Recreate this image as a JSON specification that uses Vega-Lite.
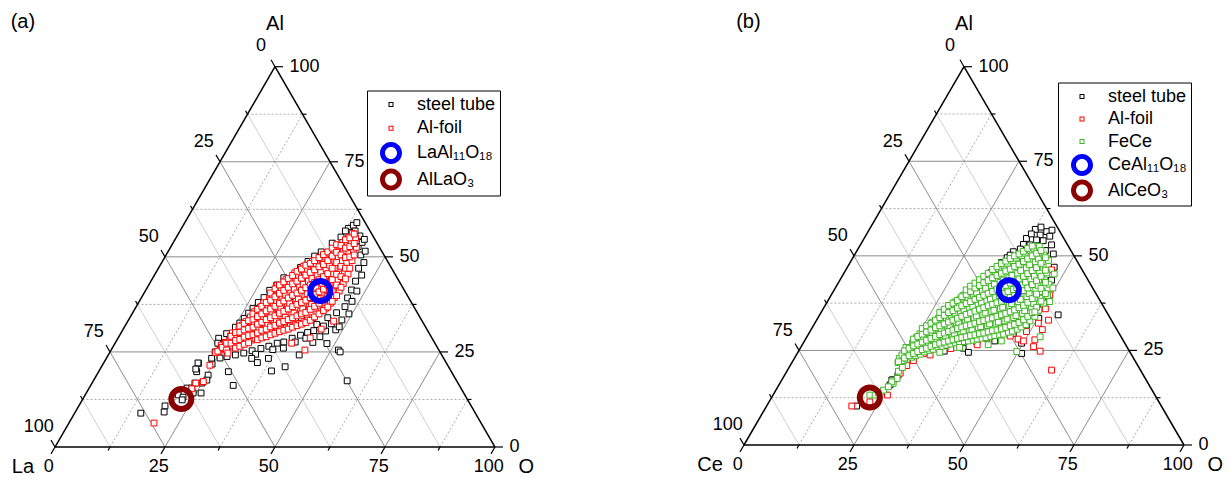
{
"$schema":"https://vega.github.io/schema/vega-lite/v6.json",
"padding":0,
"spacing":0,
"config":{"font":"Liberation Sans","view":{"stroke":null}},
"resolve":{"scale":{"fill":"independent","shape":"independent"},"legend":{"fill":"independent","shape":"independent"}},
"datasets":{
"grid":[
{"x":6.25,"y":12.5,"x2":93.75,"y2":12.5,"k":"o"},
{"x":12.5,"y":25,"x2":87.5,"y2":25,"k":"d"},
{"x":18.75,"y":37.5,"x2":81.25,"y2":37.5,"k":"o"},
{"x":25,"y":50,"x2":75,"y2":50,"k":"d"},
{"x":31.25,"y":62.5,"x2":68.75,"y2":62.5,"k":"o"},
{"x":37.5,"y":75,"x2":62.5,"y2":75,"k":"d"},
{"x":43.75,"y":87.5,"x2":56.25,"y2":87.5,"k":"o"},
{"x":12.5,"y":0,"x2":56.25,"y2":87.5,"k":"o"},
{"x":25,"y":0,"x2":62.5,"y2":75,"k":"d"},
{"x":37.5,"y":0,"x2":68.75,"y2":62.5,"k":"o"},
{"x":50,"y":0,"x2":75,"y2":50,"k":"d"},
{"x":62.5,"y":0,"x2":81.25,"y2":37.5,"k":"o"},
{"x":75,"y":0,"x2":87.5,"y2":25,"k":"d"},
{"x":87.5,"y":0,"x2":93.75,"y2":12.5,"k":"o"},
{"x":12.5,"y":0,"x2":6.25,"y2":12.5,"k":"l"},
{"x":25,"y":0,"x2":12.5,"y2":25,"k":"d"},
{"x":37.5,"y":0,"x2":18.75,"y2":37.5,"k":"l"},
{"x":50,"y":0,"x2":25,"y2":50,"k":"d"},
{"x":62.5,"y":0,"x2":31.25,"y2":62.5,"k":"l"},
{"x":75,"y":0,"x2":37.5,"y2":75,"k":"d"},
{"x":87.5,"y":0,"x2":43.75,"y2":87.5,"k":"l"},
{"x":0,"y":0,"x2":100,"y2":0,"k":"f"},
{"x":100,"y":0,"x2":50,"y2":100,"k":"f"},
{"x":50,"y":100,"x2":0,"y2":0,"k":"f"},
{"x":100,"y":0,"x2":101.82,"y2":0,"k":"t"},
{"x":93.75,"y":12.5,"x2":94.66,"y2":12.5,"k":"t"},
{"x":87.5,"y":25,"x2":89.32,"y2":25,"k":"t"},
{"x":81.25,"y":37.5,"x2":82.16,"y2":37.5,"k":"t"},
{"x":75,"y":50,"x2":76.82,"y2":50,"k":"t"},
{"x":68.75,"y":62.5,"x2":69.66,"y2":62.5,"k":"t"},
{"x":62.5,"y":75,"x2":64.32,"y2":75,"k":"t"},
{"x":56.25,"y":87.5,"x2":57.16,"y2":87.5,"k":"t"},
{"x":50,"y":100,"x2":51.82,"y2":100,"k":"t"},
{"x":50,"y":100,"x2":49.09,"y2":101.82,"k":"t"},
{"x":43.75,"y":87.5,"x2":43.3,"y2":88.41,"k":"t"},
{"x":37.5,"y":75,"x2":36.59,"y2":76.82,"k":"t"},
{"x":31.25,"y":62.5,"x2":30.8,"y2":63.41,"k":"t"},
{"x":25,"y":50,"x2":24.09,"y2":51.82,"k":"t"},
{"x":18.75,"y":37.5,"x2":18.3,"y2":38.41,"k":"t"},
{"x":12.5,"y":25,"x2":11.59,"y2":26.82,"k":"t"},
{"x":6.25,"y":12.5,"x2":5.8,"y2":13.41,"k":"t"},
{"x":0,"y":0,"x2":-0.91,"y2":1.82,"k":"t"},
{"x":0,"y":0,"x2":-0.91,"y2":-1.82,"k":"t"},
{"x":12.5,"y":0,"x2":12.05,"y2":-0.91,"k":"t"},
{"x":25,"y":0,"x2":24.09,"y2":-1.82,"k":"t"},
{"x":37.5,"y":0,"x2":37.05,"y2":-0.91,"k":"t"},
{"x":50,"y":0,"x2":49.09,"y2":-1.82,"k":"t"},
{"x":62.5,"y":0,"x2":62.05,"y2":-0.91,"k":"t"},
{"x":75,"y":0,"x2":74.09,"y2":-1.82,"k":"t"},
{"x":87.5,"y":0,"x2":87.05,"y2":-0.91,"k":"t"},
{"x":100,"y":0,"x2":99.09,"y2":-1.82,"k":"t"}
],
"lab":[
{"x":103.3,"y":0,"t":"0","g":"r"},{"x":90.8,"y":25,"t":"25","g":"r"},{"x":78.3,"y":50,"t":"50","g":"r"},{"x":65.8,"y":75,"t":"75","g":"r"},{"x":53.3,"y":100,"t":"100","g":"r"},
{"x":46.8,"y":105.5,"t":"0","g":"c"},{"x":33.8,"y":80.2,"t":"25","g":"c"},{"x":21.3,"y":55.2,"t":"50","g":"c"},{"x":8.8,"y":30.2,"t":"75","g":"c"},{"x":-3.7,"y":5.2,"t":"100","g":"c"},
{"x":-1.4,"y":-5.2,"t":"0","g":"c"},{"x":23.6,"y":-5.2,"t":"25","g":"c"},{"x":48.6,"y":-5.2,"t":"50","g":"c"},{"x":73.6,"y":-5.2,"t":"75","g":"c"},{"x":98.6,"y":-5.2,"t":"100","g":"c"}
],
"va":[{"x":50,"y":111.2,"t":"Al"},{"x":-7.3,"y":-5.3,"t":"La"},{"x":107.1,"y":-5.3,"t":"O"},{"x":-7.3,"y":111.8,"t":"(a)"}],
"vb":[{"x":50,"y":111.2,"t":"Al"},{"x":-7.7,"y":-5.3,"t":"Ce"},{"x":107.1,"y":-5.3,"t":"O"},{"x":1.0,"y":111.8,"t":"(b)"}],
"a_ref":[{"x":60.3,"y":41.0,"s":"LaAl₁₁O₁₈"},{"x":28.7,"y":12.6,"s":"AlLaO₃"}],
"b_ref":[{"x":60.2,"y":40.9,"s":"CeAl₁₁O₁₈"},{"x":28.6,"y":12.55,"s":"AlCeO₃"}],
"a_st":[
{"x":66.7,"y":57.5},{"x":67.8,"y":58.3},{"x":68.9,"y":52.7},{"x":69.3,"y":55.5},{"x":68.2,"y":56.8},{"x":67.0,"y":56.4},{"x":69.8,"y":53.8},{"x":66.0,"y":56.8},{"x":68.6,"y":59.0},{"x":70.3,"y":54.6},
{"x":69.7,"y":45.2},{"x":70.2,"y":48.5},{"x":69.5,"y":50.5},{"x":70.5,"y":51.5},{"x":67.4,"y":41.3},{"x":68.3,"y":43.6},{"x":69.0,"y":47.0},{"x":65.9,"y":36.9},{"x":66.5,"y":39.2},{"x":67.5,"y":38.3},{"x":65.2,"y":33.4},{"x":64.0,"y":35.3},{"x":62.8,"y":32.4},{"x":63.8,"y":30.8},{"x":60.2,"y":29.0},{"x":61.5,"y":30.5},{"x":58.8,"y":30.6},{"x":57.4,"y":30.1},{"x":55.8,"y":29.4},{"x":53.9,"y":28.6},{"x":52.0,"y":27.6},{"x":50.5,"y":27.3},{"x":48.6,"y":26.5},{"x":46.8,"y":25.9},{"x":44.8,"y":25.3},{"x":42.9,"y":24.7},{"x":41.0,"y":24.2},{"x":39.1,"y":23.8},{"x":59.5,"y":32.2},{"x":62.0,"y":34.0},{"x":68.6,"y":41.0},{"x":66.8,"y":35.0},{"x":64.6,"y":31.6},{"x":61.0,"y":31.8},{"x":57.0,"y":28.6},{"x":54.6,"y":27.6},{"x":49.5,"y":25.6},{"x":45.6,"y":24.4},
{"x":64.4,"y":25.5},{"x":51.9,"y":26.0},{"x":44.7,"y":23.3},{"x":48.5,"y":23.3},{"x":52.3,"y":21.1},{"x":49.2,"y":20.0},{"x":39.4,"y":19.8},{"x":32.6,"y":22.0},{"x":32.2,"y":19.8},{"x":35.6,"y":23.3},{"x":37.5,"y":27.3},{"x":66.4,"y":17.4},{"x":64.8,"y":25.0},{"x":55.5,"y":24.2},{"x":58.6,"y":27.5},{"x":61.8,"y":27.2},{"x":40.5,"y":16.2},{"x":35.7,"y":21.8},{"x":46.0,"y":22.2},
{"x":50.4,"y":42.6},{"x":54.2,"y":45.2},{"x":47.5,"y":39.3},{"x":45.0,"y":36.4},{"x":43.0,"y":33.8},{"x":41.0,"y":31.5},{"x":39.0,"y":29.8},{"x":37.2,"y":28.6},{"x":57.5,"y":48.8},{"x":60.5,"y":51.3},{"x":63.0,"y":53.6},{"x":65.0,"y":55.2},{"x":52.0,"y":44.5},{"x":55.8,"y":47.2},{"x":59.0,"y":50.2},{"x":48.8,"y":41.2},{"x":46.2,"y":38.0},{"x":44.0,"y":35.2},{"x":42.0,"y":32.6},
{"x":56.0,"y":34.0},{"x":59.5,"y":40.5},{"x":62.0,"y":45.0},{"x":48.0,"y":33.0},{"x":54.0,"y":38.0},
{"x":37.0,"y":27.3},{"x":36.4,"y":25.0},{"x":37.5,"y":23.4},{"x":32.5,"y":22.1},{"x":32.0,"y":20.5},{"x":34.8,"y":18.9},{"x":34.5,"y":17.6},{"x":33.4,"y":16.8},{"x":31.8,"y":16.8},{"x":30.0,"y":15.5},{"x":33.2,"y":14.2},{"x":31.4,"y":14.2},{"x":31.1,"y":15.5},{"x":28.0,"y":13.7},{"x":29.1,"y":13.1},{"x":28.9,"y":12.4},{"x":25.0,"y":10.8},{"x":24.8,"y":9.2},{"x":19.5,"y":8.9}
],
"a_al":[
{"x":36.5,"y":24.8},{"x":37.5,"y":25.5},{"x":37.8,"y":26.8},{"x":38.4,"y":25.9},{"x":38.7,"y":27.5},
{"x":39.3,"y":26.2},{"x":39.6,"y":28.0},{"x":39.9,"y":29.2},{"x":40.4,"y":26.6},{"x":40.7,"y":28.4},{"x":40.3,"y":30.0},
{"x":41.6,"y":27.1},{"x":41.3,"y":29.0},{"x":41.8,"y":31.0},{"x":42.4,"y":27.0},{"x":42.7,"y":28.6},{"x":42.2,"y":30.4},{"x":42.6,"y":32.1},
{"x":43.5,"y":27.8},{"x":43.2,"y":29.5},{"x":43.8,"y":31.3},{"x":43.4,"y":33.0},{"x":44.6,"y":28.1},{"x":44.3,"y":30.2},{"x":44.8,"y":32.0},{"x":44.4,"y":34.2},
{"x":45.5,"y":28.5},{"x":45.8,"y":30.4},{"x":45.3,"y":32.6},{"x":45.7,"y":34.5},{"x":45.4,"y":35.6},
{"x":46.6,"y":29.0},{"x":46.3,"y":31.1},{"x":46.8,"y":33.3},{"x":46.4,"y":35.4},{"x":46.7,"y":36.8},
{"x":47.5,"y":29.3},{"x":47.8,"y":31.5},{"x":47.3,"y":33.8},{"x":47.6,"y":36.0},{"x":47.4,"y":37.9},
{"x":48.6,"y":29.8},{"x":48.3,"y":32.2},{"x":48.8,"y":34.5},{"x":48.4,"y":36.8},{"x":48.7,"y":39.0},
{"x":49.5,"y":30.1},{"x":49.8,"y":32.5},{"x":49.3,"y":35.1},{"x":49.6,"y":37.6},{"x":49.4,"y":39.8},
{"x":50.6,"y":30.4},{"x":50.3,"y":33.0},{"x":50.8,"y":35.8},{"x":50.4,"y":38.5},{"x":50.7,"y":41.0},{"x":50.5,"y":42.5},
{"x":51.5,"y":31.0},{"x":51.8,"y":33.6},{"x":51.3,"y":36.4},{"x":51.6,"y":39.2},{"x":51.4,"y":41.8},
{"x":52.6,"y":31.3},{"x":52.3,"y":34.1},{"x":52.8,"y":37.0},{"x":52.4,"y":40.0},{"x":52.7,"y":42.8},{"x":52.5,"y":44.0},
{"x":53.5,"y":31.8},{"x":53.8,"y":34.8},{"x":53.3,"y":37.7},{"x":53.6,"y":40.8},{"x":53.4,"y":43.5},
{"x":54.6,"y":32.2},{"x":54.3,"y":35.2},{"x":54.8,"y":38.4},{"x":54.4,"y":41.5},{"x":54.7,"y":44.3},{"x":54.5,"y":45.8},
{"x":55.5,"y":32.5},{"x":55.8,"y":35.6},{"x":55.3,"y":38.9},{"x":55.6,"y":42.2},{"x":55.4,"y":45.0},
{"x":56.6,"y":33.0},{"x":56.3,"y":36.3},{"x":56.8,"y":39.6},{"x":56.4,"y":42.8},{"x":56.7,"y":45.9},{"x":56.5,"y":47.5},
{"x":57.5,"y":33.4},{"x":57.8,"y":36.9},{"x":57.3,"y":40.3},{"x":57.6,"y":43.6},{"x":57.4,"y":46.6},
{"x":58.6,"y":34.0},{"x":58.3,"y":37.5},{"x":58.8,"y":41.0},{"x":58.4,"y":44.3},{"x":58.7,"y":47.4},{"x":58.5,"y":48.8},
{"x":59.5,"y":35.0},{"x":59.8,"y":38.4},{"x":59.3,"y":42.0},{"x":59.6,"y":45.2},{"x":59.4,"y":48.2},
{"x":60.6,"y":35.8},{"x":60.3,"y":39.0},{"x":60.8,"y":43.0},{"x":60.4,"y":46.0},{"x":60.7,"y":49.2},
{"x":61.5,"y":36.5},{"x":61.8,"y":40.0},{"x":61.3,"y":43.6},{"x":61.6,"y":46.9},{"x":61.4,"y":50.0},
{"x":62.6,"y":37.8},{"x":62.3,"y":41.2},{"x":62.8,"y":44.5},{"x":62.4,"y":47.8},{"x":62.7,"y":50.8},
{"x":63.5,"y":39.3},{"x":63.8,"y":42.5},{"x":63.3,"y":45.6},{"x":63.6,"y":48.9},{"x":63.4,"y":51.8},
{"x":64.6,"y":41.0},{"x":64.3,"y":44.0},{"x":64.8,"y":47.0},{"x":64.4,"y":50.0},{"x":64.7,"y":52.6},
{"x":65.5,"y":43.0},{"x":65.8,"y":46.0},{"x":65.3,"y":49.0},{"x":65.6,"y":51.6},{"x":65.4,"y":53.8},
{"x":66.6,"y":45.5},{"x":66.3,"y":48.5},{"x":66.8,"y":51.0},{"x":66.4,"y":53.5},{"x":66.7,"y":55.2},
{"x":67.5,"y":49.0},{"x":67.8,"y":51.5},{"x":67.3,"y":54.0},{"x":67.6,"y":56.2},{"x":68.5,"y":52.5},{"x":68.3,"y":55.0},
{"x":37.0,"y":25.2},{"x":38.0,"y":26.2},{"x":39.0,"y":25.5},{"x":39.0,"y":27.3},{"x":40.0,"y":27.3},{"x":40.0,"y":29.1},
{"x":41.0,"y":26.0},{"x":41.0,"y":28.0},{"x":41.0,"y":30.1},{"x":42.0,"y":26.5},{"x":42.0,"y":28.3},{"x":42.0,"y":30.2},{"x":42.0,"y":31.8},
{"x":43.0,"y":27.0},{"x":43.0,"y":28.9},{"x":43.0,"y":30.8},{"x":43.0,"y":32.5},{"x":44.0,"y":27.4},{"x":44.0,"y":29.3},{"x":44.0,"y":31.2},{"x":44.0,"y":33.2},
{"x":45.0,"y":29.5},{"x":45.0,"y":31.5},{"x":45.0,"y":33.6},{"x":45.0,"y":35.0},{"x":46.0,"y":28.2},{"x":46.0,"y":30.0},{"x":46.0,"y":32.3},{"x":46.0,"y":34.3},{"x":46.0,"y":36.2},
{"x":47.0,"y":28.7},{"x":47.0,"y":30.7},{"x":47.0,"y":32.8},{"x":47.0,"y":35.0},{"x":47.0,"y":37.0},
{"x":48.0,"y":29.0},{"x":48.0,"y":31.0},{"x":48.0,"y":33.5},{"x":48.0,"y":35.8},{"x":48.0,"y":38.0},
{"x":49.0,"y":29.5},{"x":49.0,"y":31.6},{"x":49.0,"y":34.0},{"x":49.0,"y":36.3},{"x":49.0,"y":38.6},{"x":49.0,"y":40.5},
{"x":50.0,"y":29.9},{"x":50.0,"y":32.0},{"x":50.0,"y":34.5},{"x":50.0,"y":37.0},{"x":50.0,"y":39.5},{"x":50.0,"y":41.6},
{"x":51.0,"y":30.3},{"x":51.0,"y":32.6},{"x":51.0,"y":35.2},{"x":51.0,"y":37.8},{"x":51.0,"y":40.4},{"x":51.0,"y":42.6},
{"x":52.0,"y":30.7},{"x":52.0,"y":33.0},{"x":52.0,"y":35.7},{"x":52.0,"y":38.4},{"x":52.0,"y":41.2},{"x":52.0,"y":43.4},
{"x":53.0,"y":31.0},{"x":53.0,"y":33.5},{"x":53.0,"y":36.3},{"x":53.0,"y":39.2},{"x":53.0,"y":42.0},{"x":53.0,"y":44.3},
{"x":54.0,"y":31.5},{"x":54.0,"y":34.0},{"x":54.0,"y":36.9},{"x":54.0,"y":39.9},{"x":54.0,"y":42.9},{"x":54.0,"y":45.1},
{"x":55.0,"y":31.9},{"x":55.0,"y":34.5},{"x":55.0,"y":37.5},{"x":55.0,"y":40.5},{"x":55.0,"y":43.6},{"x":55.0,"y":46.2},
{"x":56.0,"y":32.3},{"x":56.0,"y":35.0},{"x":56.0,"y":38.0},{"x":56.0,"y":41.2},{"x":56.0,"y":44.4},{"x":56.0,"y":46.8},
{"x":57.0,"y":32.7},{"x":57.0,"y":35.4},{"x":57.0,"y":38.6},{"x":57.0,"y":41.9},{"x":57.0,"y":45.2},{"x":57.0,"y":47.8},
{"x":58.0,"y":33.3},{"x":58.0,"y":36.2},{"x":58.0,"y":39.3},{"x":58.0,"y":42.6},{"x":58.0,"y":45.9},{"x":58.0,"y":48.3},
{"x":59.0,"y":34.2},{"x":59.0,"y":37.0},{"x":59.0,"y":40.1},{"x":59.0,"y":43.3},{"x":59.0,"y":46.6},{"x":59.0,"y":49.0},
{"x":60.0,"y":35.0},{"x":60.0,"y":37.8},{"x":60.0,"y":40.8},{"x":60.0,"y":44.0},{"x":60.0,"y":47.4},{"x":60.0,"y":49.8},
{"x":61.0,"y":35.9},{"x":61.0,"y":38.6},{"x":61.0,"y":41.5},{"x":61.0,"y":44.8},{"x":61.0,"y":48.0},{"x":61.0,"y":50.6},
{"x":62.0,"y":36.8},{"x":62.0,"y":39.6},{"x":62.0,"y":42.6},{"x":62.0,"y":45.6},{"x":62.0,"y":49.0},{"x":62.0,"y":51.3},
{"x":63.0,"y":38.3},{"x":63.0,"y":41.0},{"x":63.0,"y":44.0},{"x":63.0,"y":47.0},{"x":63.0,"y":50.2},{"x":63.0,"y":52.3},
{"x":64.0,"y":39.8},{"x":64.0,"y":42.6},{"x":64.0,"y":45.4},{"x":64.0,"y":48.5},{"x":64.0,"y":51.2},{"x":64.0,"y":53.2},
{"x":65.0,"y":42.0},{"x":65.0,"y":44.8},{"x":65.0,"y":47.5},{"x":65.0,"y":50.5},{"x":65.0,"y":53.0},
{"x":66.0,"y":44.2},{"x":66.0,"y":47.0},{"x":66.0,"y":49.8},{"x":66.0,"y":52.3},{"x":66.0,"y":54.5},
{"x":67.0,"y":47.0},{"x":67.0,"y":50.0},{"x":67.0,"y":52.7},{"x":67.0,"y":55.0},{"x":68.0,"y":50.5},{"x":68.0,"y":53.5},{"x":68.0,"y":56.0},
{"x":53.8,"y":27.3},{"x":56.8,"y":25.5},{"x":58.0,"y":28.7},{"x":63.3,"y":33.1},{"x":60.5,"y":31.0},{"x":39.3,"y":24.7},{"x":33.6,"y":17.1},{"x":32.0,"y":16.8},{"x":31.1,"y":15.3},{"x":22.5,"y":6.3},{"x":33.7,"y":17.2},{"x":35.2,"y":21.5}
],
"b_st":[
{"x":64.2,"y":54.6},{"x":69.9,"y":52.9},{"x":68.8,"y":56.4},{"x":67.3,"y":55.5},{"x":65.0,"y":52.9},{"x":61.2,"y":51.1},{"x":62.0,"y":49.4},{"x":66.2,"y":57.0},{"x":68.0,"y":54.0},{"x":69.5,"y":55.2},{"x":63.5,"y":53.0},{"x":66.5,"y":54.2},{"x":70.3,"y":50.5},{"x":59.8,"y":49.5},{"x":58.5,"y":48.2},{"x":67.5,"y":57.6},{"x":65.3,"y":55.8},{"x":62.8,"y":51.8},{"x":60.5,"y":50.2},{"x":70.0,"y":56.8},{"x":68.5,"y":51.4},
{"x":57.4,"y":46.3},{"x":53.6,"y":41.8},{"x":46.8,"y":35.2},{"x":50.0,"y":38.8},{"x":55.5,"y":44.5},{"x":43.5,"y":32.5},{"x":56.2,"y":45.6},{"x":52.0,"y":41.0},
{"x":69.9,"y":43.6},{"x":69.2,"y":39.2},{"x":68.0,"y":37.0},{"x":71.4,"y":34.4},{"x":64.2,"y":31.7},{"x":63.1,"y":26.9},{"x":63.1,"y":24.2},{"x":61.2,"y":29.5},{"x":70.5,"y":47.0},{"x":67.0,"y":33.5},
{"x":52.9,"y":27.3},{"x":49.8,"y":25.6},{"x":51.0,"y":24.5},{"x":57.0,"y":27.5},{"x":45.5,"y":24.8},
{"x":33.2,"y":15.9},{"x":33.9,"y":17.2},{"x":25.6,"y":10.3},{"x":33.6,"y":17.2},{"x":35.0,"y":18.5}
],
"b_al":[
{"x":69.9,"y":46.3},{"x":69.5,"y":39.7},{"x":69.2,"y":33.0},{"x":66.9,"y":32.2},{"x":66.1,"y":27.8},{"x":67.3,"y":24.8},{"x":65.8,"y":26.0},{"x":69.9,"y":19.8},{"x":64.2,"y":30.0},{"x":55.2,"y":28.2},{"x":55.5,"y":30.4},{"x":42.3,"y":23.8},{"x":40.8,"y":24.2},{"x":48.7,"y":35.7},{"x":58.9,"y":32.6},{"x":35.5,"y":19.0},{"x":24.5,"y":10.3},{"x":28.6,"y":11.4},{"x":32.6,"y":13.2},{"x":60.5,"y":28.8},{"x":62.3,"y":28.0},{"x":53.0,"y":26.5},{"x":47.0,"y":25.5},{"x":38.5,"y":22.3},{"x":67.8,"y":30.5},{"x":68.5,"y":36.0},{"x":57.5,"y":30.0},{"x":44.0,"y":31.8},{"x":37.0,"y":21.0},{"x":63.5,"y":27.5}
],
"b_fe":[
{"x":35.0,"y":21.8},{"x":35.3,"y":22.9},{"x":36.2,"y":22.3},{"x":35.9,"y":23.8},
{"x":37.0,"y":22.7},{"x":37.3,"y":24.3},{"x":36.8,"y":25.8},{"x":38.1,"y":23.2},{"x":37.8,"y":25.0},{"x":38.3,"y":26.9},
{"x":39.0,"y":23.6},{"x":39.3,"y":25.4},{"x":38.8,"y":27.2},{"x":39.2,"y":28.4},{"x":40.1,"y":24.0},{"x":39.8,"y":26.0},{"x":40.3,"y":27.9},{"x":40.0,"y":29.4},
{"x":41.0,"y":24.6},{"x":41.3,"y":26.5},{"x":40.8,"y":28.5},{"x":41.2,"y":30.4},{"x":42.1,"y":25.0},{"x":41.8,"y":27.1},{"x":42.3,"y":29.1},{"x":42.0,"y":31.3},
{"x":43.0,"y":25.3},{"x":43.3,"y":27.4},{"x":42.8,"y":29.6},{"x":43.2,"y":31.6},{"x":42.9,"y":32.5},
{"x":44.1,"y":25.8},{"x":43.8,"y":28.0},{"x":44.3,"y":30.3},{"x":44.0,"y":32.4},{"x":44.2,"y":33.5},
{"x":45.0,"y":26.1},{"x":45.3,"y":28.3},{"x":44.8,"y":30.6},{"x":45.2,"y":32.8},{"x":44.9,"y":34.5},
{"x":46.1,"y":26.4},{"x":45.8,"y":28.8},{"x":46.3,"y":31.2},{"x":46.0,"y":33.6},{"x":46.2,"y":35.6},
{"x":47.0,"y":26.7},{"x":47.3,"y":29.0},{"x":46.8,"y":31.5},{"x":47.2,"y":34.0},{"x":46.9,"y":36.4},
{"x":48.1,"y":27.0},{"x":47.8,"y":29.5},{"x":48.3,"y":32.0},{"x":48.0,"y":34.6},{"x":48.2,"y":37.0},{"x":47.9,"y":37.8},
{"x":49.0,"y":27.1},{"x":49.3,"y":29.8},{"x":48.8,"y":32.4},{"x":49.2,"y":35.0},{"x":48.9,"y":37.6},{"x":49.1,"y":38.6},
{"x":50.1,"y":27.3},{"x":49.8,"y":30.1},{"x":50.3,"y":32.9},{"x":50.0,"y":35.7},{"x":50.2,"y":38.4},{"x":49.9,"y":39.6},
{"x":51.0,"y":27.5},{"x":51.3,"y":30.4},{"x":50.8,"y":33.3},{"x":51.2,"y":36.2},{"x":50.9,"y":39.0},{"x":51.1,"y":40.4},
{"x":52.1,"y":27.7},{"x":51.8,"y":30.6},{"x":52.3,"y":33.6},{"x":52.0,"y":36.6},{"x":52.2,"y":39.6},{"x":51.9,"y":41.4},
{"x":53.0,"y":28.0},{"x":53.3,"y":31.0},{"x":52.8,"y":34.1},{"x":53.2,"y":37.2},{"x":52.9,"y":40.2},{"x":53.1,"y":42.1},
{"x":54.1,"y":28.2},{"x":53.8,"y":31.3},{"x":54.3,"y":34.5},{"x":54.0,"y":37.7},{"x":54.2,"y":40.8},{"x":53.9,"y":43.0},
{"x":55.0,"y":28.4},{"x":55.3,"y":31.6},{"x":54.8,"y":34.9},{"x":55.2,"y":38.2},{"x":54.9,"y":41.4},{"x":55.1,"y":43.9},
{"x":56.1,"y":28.7},{"x":55.8,"y":32.0},{"x":56.3,"y":35.3},{"x":56.0,"y":38.6},{"x":56.2,"y":42.0},{"x":55.9,"y":44.8},
{"x":57.0,"y":28.9},{"x":57.3,"y":32.2},{"x":56.8,"y":35.6},{"x":57.2,"y":39.0},{"x":56.9,"y":42.5},{"x":57.1,"y":45.8},
{"x":58.1,"y":29.1},{"x":57.8,"y":32.5},{"x":58.3,"y":36.0},{"x":58.0,"y":39.5},{"x":58.2,"y":43.0},{"x":57.9,"y":46.6},
{"x":59.0,"y":29.3},{"x":59.3,"y":32.8},{"x":58.8,"y":36.4},{"x":59.2,"y":40.0},{"x":58.9,"y":43.6},{"x":59.1,"y":47.5},
{"x":60.1,"y":29.8},{"x":59.8,"y":33.3},{"x":60.3,"y":36.9},{"x":60.0,"y":40.5},{"x":60.2,"y":44.2},{"x":59.9,"y":48.0},
{"x":61.0,"y":30.1},{"x":61.3,"y":33.7},{"x":60.8,"y":37.4},{"x":61.2,"y":41.1},{"x":60.9,"y":44.8},{"x":61.1,"y":48.8},
{"x":62.1,"y":30.6},{"x":61.8,"y":34.2},{"x":62.3,"y":37.9},{"x":62.0,"y":41.6},{"x":62.2,"y":45.4},{"x":61.9,"y":49.4},
{"x":63.0,"y":31.2},{"x":63.3,"y":34.8},{"x":62.8,"y":38.5},{"x":63.2,"y":42.3},{"x":62.9,"y":46.1},{"x":63.1,"y":50.0},
{"x":64.1,"y":31.8},{"x":63.8,"y":35.5},{"x":64.3,"y":39.2},{"x":64.0,"y":43.0},{"x":64.2,"y":46.8},{"x":63.9,"y":50.7},
{"x":65.0,"y":32.8},{"x":65.3,"y":36.3},{"x":64.8,"y":40.0},{"x":65.2,"y":43.8},{"x":64.9,"y":47.6},{"x":65.1,"y":51.5},
{"x":66.1,"y":34.0},{"x":65.8,"y":37.4},{"x":66.3,"y":41.0},{"x":66.0,"y":44.6},{"x":66.2,"y":48.4},{"x":65.9,"y":52.0},
{"x":67.0,"y":35.6},{"x":67.3,"y":38.8},{"x":66.8,"y":42.2},{"x":67.2,"y":45.6},{"x":66.9,"y":49.2},{"x":67.1,"y":52.5},
{"x":68.1,"y":37.5},{"x":67.8,"y":40.6},{"x":68.3,"y":43.6},{"x":68.0,"y":47.0},{"x":68.2,"y":50.2},
{"x":69.0,"y":39.5},{"x":69.3,"y":42.5},{"x":68.8,"y":45.5},{"x":69.2,"y":48.8},
{"x":36.5,"y":23.0},{"x":36.5,"y":24.9},{"x":37.5,"y":23.6},{"x":37.5,"y":25.6},{"x":38.5,"y":24.2},{"x":38.5,"y":26.2},{"x":38.5,"y":28.0},
{"x":39.5,"y":24.7},{"x":39.5,"y":26.7},{"x":39.5,"y":28.7},{"x":40.5,"y":25.2},{"x":40.5,"y":27.2},{"x":40.5,"y":29.3},{"x":40.5,"y":30.8},
{"x":41.5,"y":25.6},{"x":41.5,"y":27.7},{"x":41.5,"y":29.9},{"x":41.5,"y":31.5},{"x":42.5,"y":26.1},{"x":42.5,"y":28.2},{"x":42.5,"y":30.4},{"x":42.5,"y":32.2},
{"x":43.5,"y":26.5},{"x":43.5,"y":28.7},{"x":43.5,"y":31.0},{"x":43.5,"y":33.0},{"x":44.5,"y":26.9},{"x":44.5,"y":29.2},{"x":44.5,"y":31.5},{"x":44.5,"y":33.7},{"x":44.5,"y":35.0},
{"x":45.5,"y":27.2},{"x":45.5,"y":29.6},{"x":45.5,"y":32.0},{"x":45.5,"y":34.3},{"x":45.5,"y":35.9},
{"x":46.5,"y":27.5},{"x":46.5,"y":30.0},{"x":46.5,"y":32.5},{"x":46.5,"y":35.0},{"x":46.5,"y":36.9},
{"x":47.5,"y":27.8},{"x":47.5,"y":30.4},{"x":47.5,"y":33.0},{"x":47.5,"y":35.5},{"x":47.5,"y":37.5},
{"x":48.5,"y":28.1},{"x":48.5,"y":30.8},{"x":48.5,"y":33.5},{"x":48.5,"y":36.2},{"x":48.5,"y":38.2},
{"x":49.5,"y":28.4},{"x":49.5,"y":31.2},{"x":49.5,"y":34.0},{"x":49.5,"y":36.8},{"x":49.5,"y":39.2},
{"x":50.5,"y":28.6},{"x":50.5,"y":31.5},{"x":50.5,"y":34.5},{"x":50.5,"y":37.4},{"x":50.5,"y":39.8},{"x":50.5,"y":41.0},
{"x":51.5,"y":28.9},{"x":51.5,"y":31.8},{"x":51.5,"y":34.9},{"x":51.5,"y":37.9},{"x":51.5,"y":40.6},{"x":51.5,"y":42.0},
{"x":52.5,"y":29.1},{"x":52.5,"y":32.2},{"x":52.5,"y":35.4},{"x":52.5,"y":38.5},{"x":52.5,"y":41.5},{"x":52.5,"y":42.8},
{"x":53.5,"y":29.4},{"x":53.5,"y":32.6},{"x":53.5,"y":35.9},{"x":53.5,"y":39.0},{"x":53.5,"y":42.2},{"x":53.5,"y":43.7},
{"x":54.5,"y":29.6},{"x":54.5,"y":32.9},{"x":54.5,"y":36.3},{"x":54.5,"y":39.6},{"x":54.5,"y":42.9},{"x":54.5,"y":44.6},
{"x":55.5,"y":29.9},{"x":55.5,"y":33.3},{"x":55.5,"y":36.8},{"x":55.5,"y":40.1},{"x":55.5,"y":43.5},{"x":55.5,"y":45.4},
{"x":56.5,"y":30.2},{"x":56.5,"y":33.6},{"x":56.5,"y":37.2},{"x":56.5,"y":40.6},{"x":56.5,"y":44.2},{"x":56.5,"y":46.4},
{"x":57.5,"y":30.4},{"x":57.5,"y":34.0},{"x":57.5,"y":37.6},{"x":57.5,"y":41.2},{"x":57.5,"y":44.8},{"x":57.5,"y":47.2},
{"x":58.5,"y":30.7},{"x":58.5,"y":34.4},{"x":58.5,"y":38.0},{"x":58.5,"y":41.7},{"x":58.5,"y":45.4},{"x":58.5,"y":48.0},
{"x":59.5,"y":31.1},{"x":59.5,"y":34.8},{"x":59.5,"y":38.5},{"x":59.5,"y":42.2},{"x":59.5,"y":46.0},{"x":59.5,"y":48.6},
{"x":60.5,"y":31.5},{"x":60.5,"y":35.2},{"x":60.5,"y":39.0},{"x":60.5,"y":42.8},{"x":60.5,"y":46.5},{"x":60.5,"y":49.3},
{"x":61.5,"y":31.9},{"x":61.5,"y":35.7},{"x":61.5,"y":39.5},{"x":61.5,"y":43.3},{"x":61.5,"y":47.2},{"x":61.5,"y":50.0},
{"x":62.5,"y":32.4},{"x":62.5,"y":36.3},{"x":62.5,"y":40.1},{"x":62.5,"y":43.9},{"x":62.5,"y":47.8},{"x":62.5,"y":50.5},
{"x":63.5,"y":33.1},{"x":63.5,"y":36.9},{"x":63.5,"y":40.8},{"x":63.5,"y":44.6},{"x":63.5,"y":48.5},{"x":63.5,"y":51.2},
{"x":64.5,"y":34.0},{"x":64.5,"y":37.7},{"x":64.5,"y":41.5},{"x":64.5,"y":45.3},{"x":64.5,"y":49.2},{"x":64.5,"y":52.0},
{"x":65.5,"y":35.0},{"x":65.5,"y":38.7},{"x":65.5,"y":42.4},{"x":65.5,"y":46.1},{"x":65.5,"y":50.0},{"x":65.5,"y":52.6},
{"x":66.5,"y":36.4},{"x":66.5,"y":39.9},{"x":66.5,"y":43.4},{"x":66.5,"y":46.9},{"x":66.5,"y":50.7},
{"x":67.5,"y":38.0},{"x":67.5,"y":41.4},{"x":67.5,"y":44.6},{"x":67.5,"y":48.0},{"x":67.5,"y":51.4},
{"x":68.5,"y":40.0},{"x":68.5,"y":43.0},{"x":68.5,"y":46.2},{"x":68.5,"y":49.5},
{"x":67.3,"y":28.6},{"x":62.0,"y":24.7},{"x":69.5,"y":37.9},{"x":66.1,"y":35.2},{"x":28.6,"y":13.2},{"x":29.8,"y":13.2},{"x":31.7,"y":14.5},{"x":33.9,"y":16.3},{"x":34.8,"y":17.6},{"x":35.1,"y":22.0},{"x":33.6,"y":16.7},{"x":35.1,"y":19.5},{"x":55.5,"y":26.5},{"x":58.5,"y":27.5},{"x":49.0,"y":25.8},{"x":44.5,"y":24.5},{"x":70.2,"y":41.5},{"x":70.5,"y":45.2},{"x":30.5,"y":13.8},{"x":32.8,"y":15.4},{"x":36.0,"y":20.5}
]
},
"hconcat":[
{
"width":615,"height":479,
"encoding":{
"x":{"field":"x","type":"quantitative","scale":{"domain":[-12.5,127.27],"nice":false,"zero":false},"axis":null},
"y":{"field":"y","type":"quantitative","scale":{"domain":[-8.414,117.54],"nice":false,"zero":false},"axis":null}
},
"layer":[
{"data":{"name":"grid"},"transform":[{"filter":"datum.k=='l'"}],"mark":{"type":"rule","color":"#cfcfcf","strokeWidth":1},"encoding":{"x2":{"field":"x2"},"y2":{"field":"y2"}}},
{"data":{"name":"grid"},"transform":[{"filter":"datum.k=='o'"}],"mark":{"type":"rule","color":"#ababab","strokeWidth":1,"strokeDash":[2,2]},"encoding":{"x2":{"field":"x2"},"y2":{"field":"y2"}}},
{"data":{"name":"grid"},"transform":[{"filter":"datum.k=='d'"}],"mark":{"type":"rule","color":"#8c8c8c","strokeWidth":1},"encoding":{"x2":{"field":"x2"},"y2":{"field":"y2"}}},
{"data":{"name":"grid"},"transform":[{"filter":"datum.k=='f'"}],"mark":{"type":"rule","color":"#000000","strokeWidth":1.5},"encoding":{"x2":{"field":"x2"},"y2":{"field":"y2"}}},
{"data":{"name":"grid"},"transform":[{"filter":"datum.k=='t'"}],"mark":{"type":"rule","color":"#000000","strokeWidth":1.2},"encoding":{"x2":{"field":"x2"},"y2":{"field":"y2"}}},
{"data":{"name":"lab"},"transform":[{"filter":"datum.g=='r'"}],"mark":{"type":"text","align":"left","baseline":"middle","fontSize":18,"color":"black"},"encoding":{"text":{"field":"t"}}},
{"data":{"name":"lab"},"transform":[{"filter":"datum.g=='c'"}],"mark":{"type":"text","align":"center","baseline":"middle","fontSize":18,"color":"black"},"encoding":{"text":{"field":"t"}}},
{"data":{"name":"va"},"mark":{"type":"text","align":"center","baseline":"middle","fontSize":20,"color":"black"},"encoding":{"text":{"field":"t"}}},
{"data":{"name":"a_st"},"mark":{"type":"point","shape":"square","filled":true,"fill":"white","stroke":"#000000","size":34,"strokeWidth":1,"opacity":1}},
{"data":{"name":"a_al"},"mark":{"type":"point","shape":"square","filled":true,"fill":"white","stroke":"#ff0000","size":34,"strokeWidth":1,"opacity":1}},
{"data":{"name":"a_ref"},"mark":{"type":"point","shape":"circle","filled":false,"size":400,"strokeWidth":6,"opacity":1},
 "encoding":{"stroke":{"condition":{"test":"datum.s == 'AlLaO₃'","value":"#8b0000"},"value":"#0000ff"}}},
{"data":{"values":[]},"mark":{"type":"point","filled":true,"size":400,"opacity":1,"strokeWidth":0},
 "encoding":{
  "fill":{"field":"s","type":"nominal","scale":{"domain":["steel tube","Al-foil","LaAl₁₁O₁₈","AlLaO₃"],"range":["#000000","#ff0000","#0000ff","#8b0000"]},
   "legend":{"title":null,"orient":"none","legendX":367,"legendY":90.5,"padding":4,"strokeColor":"black","fillColor":"white","symbolSize":400,"symbolStrokeWidth":0,"symbolOffset":10,"labelOffset":16,"rowPadding":4.7,"labelFontSize":18,"labelFont":"Liberation Sans","labelColor":"black","labelLimit":300}},
  "shape":{"field":"s","type":"nominal","scale":{"domain":["steel tube","Al-foil","LaAl₁₁O₁₈","AlLaO₃"],"range":["M-0.25,-0.25H0.25V0.25H-0.25Z M-0.15,-0.15V0.15H0.15V-0.15Z","M-0.25,-0.25H0.25V0.25H-0.25Z M-0.15,-0.15V0.15H0.15V-0.15Z","M-1.1,0A1.1,1.1,0,1,1,1.1,0A1.1,1.1,0,1,1,-1.1,0Z M-0.6,0A0.6,0.6,0,1,0,0.6,0A0.6,0.6,0,1,0,-0.6,0Z","M-1.1,0A1.1,1.1,0,1,1,1.1,0A1.1,1.1,0,1,1,-1.1,0Z M-0.6,0A0.6,0.6,0,1,0,0.6,0A0.6,0.6,0,1,0,-0.6,0Z"]}}
 }}
]
},
{
"width":615,"height":479,
"encoding":{
"x":{"field":"x","type":"quantitative","scale":{"domain":[-29.318,110.455],"nice":false,"zero":false},"axis":null},
"y":{"field":"y","type":"quantitative","scale":{"domain":[-8.988,117.63],"nice":false,"zero":false},"axis":null}
},
"layer":[
{"data":{"name":"grid"},"transform":[{"filter":"datum.k=='l'"}],"mark":{"type":"rule","color":"#cfcfcf","strokeWidth":1},"encoding":{"x2":{"field":"x2"},"y2":{"field":"y2"}}},
{"data":{"name":"grid"},"transform":[{"filter":"datum.k=='o'"}],"mark":{"type":"rule","color":"#ababab","strokeWidth":1,"strokeDash":[2,2]},"encoding":{"x2":{"field":"x2"},"y2":{"field":"y2"}}},
{"data":{"name":"grid"},"transform":[{"filter":"datum.k=='d'"}],"mark":{"type":"rule","color":"#8c8c8c","strokeWidth":1},"encoding":{"x2":{"field":"x2"},"y2":{"field":"y2"}}},
{"data":{"name":"grid"},"transform":[{"filter":"datum.k=='f'"}],"mark":{"type":"rule","color":"#000000","strokeWidth":1.5},"encoding":{"x2":{"field":"x2"},"y2":{"field":"y2"}}},
{"data":{"name":"grid"},"transform":[{"filter":"datum.k=='t'"}],"mark":{"type":"rule","color":"#000000","strokeWidth":1.2},"encoding":{"x2":{"field":"x2"},"y2":{"field":"y2"}}},
{"data":{"name":"lab"},"transform":[{"filter":"datum.g=='r'"}],"mark":{"type":"text","align":"left","baseline":"middle","fontSize":18,"color":"black"},"encoding":{"text":{"field":"t"}}},
{"data":{"name":"lab"},"transform":[{"filter":"datum.g=='c'"}],"mark":{"type":"text","align":"center","baseline":"middle","fontSize":18,"color":"black"},"encoding":{"text":{"field":"t"}}},
{"data":{"name":"vb"},"mark":{"type":"text","align":"center","baseline":"middle","fontSize":20,"color":"black"},"encoding":{"text":{"field":"t"}}},
{"data":{"name":"b_st"},"mark":{"type":"point","shape":"square","filled":true,"fill":"white","stroke":"#000000","size":34,"strokeWidth":1,"opacity":1}},
{"data":{"name":"b_al"},"mark":{"type":"point","shape":"square","filled":true,"fill":"white","stroke":"#ff0000","size":34,"strokeWidth":1,"opacity":1}},
{"data":{"name":"b_fe"},"mark":{"type":"point","shape":"square","filled":true,"fill":"white","stroke":"#3cb521","size":34,"strokeWidth":1,"opacity":1}},
{"data":{"name":"b_ref"},"mark":{"type":"point","shape":"circle","filled":false,"size":400,"strokeWidth":6,"opacity":1},
 "encoding":{"stroke":{"condition":{"test":"datum.s == 'AlCeO₃'","value":"#8b0000"},"value":"#0000ff"}}},
{"data":{"values":[]},"mark":{"type":"point","filled":true,"size":400,"opacity":1,"strokeWidth":0},
 "encoding":{
  "fill":{"field":"s","type":"nominal","scale":{"domain":["steel tube","Al-foil","FeCe","CeAl₁₁O₁₈","AlCeO₃"],"range":["#000000","#ff0000","#3cb521","#0000ff","#8b0000"]},
   "legend":{"title":null,"orient":"none","legendX":443,"legendY":82.5,"padding":4,"strokeColor":"black","fillColor":"white","symbolSize":400,"symbolStrokeWidth":0,"symbolOffset":10,"labelOffset":16,"rowPadding":3.5,"labelFontSize":18,"labelFont":"Liberation Sans","labelColor":"black","labelLimit":300}},
  "shape":{"field":"s","type":"nominal","scale":{"domain":["steel tube","Al-foil","FeCe","CeAl₁₁O₁₈","AlCeO₃"],"range":["M-0.25,-0.25H0.25V0.25H-0.25Z M-0.15,-0.15V0.15H0.15V-0.15Z","M-0.25,-0.25H0.25V0.25H-0.25Z M-0.15,-0.15V0.15H0.15V-0.15Z","M-0.25,-0.25H0.25V0.25H-0.25Z M-0.15,-0.15V0.15H0.15V-0.15Z","M-1.1,0A1.1,1.1,0,1,1,1.1,0A1.1,1.1,0,1,1,-1.1,0Z M-0.6,0A0.6,0.6,0,1,0,0.6,0A0.6,0.6,0,1,0,-0.6,0Z","M-1.1,0A1.1,1.1,0,1,1,1.1,0A1.1,1.1,0,1,1,-1.1,0Z M-0.6,0A0.6,0.6,0,1,0,0.6,0A0.6,0.6,0,1,0,-0.6,0Z"]}}
 }}
]
}
]
}
